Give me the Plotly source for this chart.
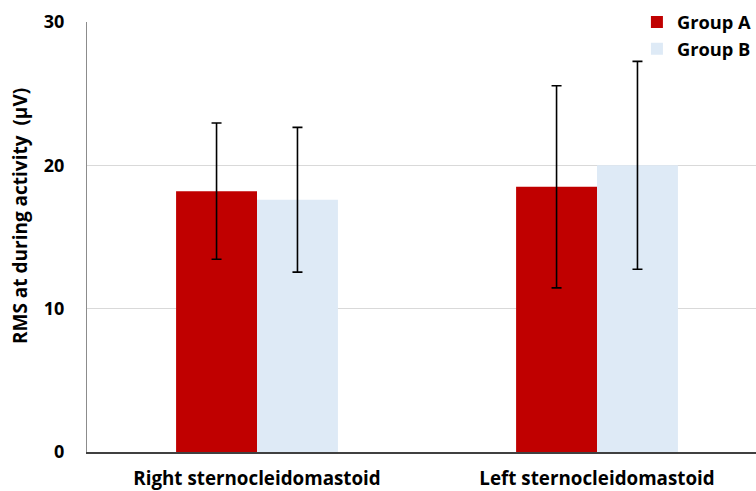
import plotly.graph_objects as go

categories = ["Right sternocleidomastoid", "Left sternocleidomastoid"]
group_a = [18.2, 18.5]
group_a_err = [4.75, 7.05]
group_b = [17.6, 20.0]
group_b_err = [5.05, 7.25]
y_ticks = [0, 10, 20, 30]
y_title = "RMS at during activity  (μV)"

FONT = "Open Sans"

fig = go.Figure()
fig.add_trace(go.Bar(
    name="Group A", x=categories, y=group_a,
    marker=dict(color="#C00000", line=dict(width=0)),
    error_y=dict(type="data", array=group_a_err, visible=True,
                 color="black", thickness=1.6, width=5),
))
fig.add_trace(go.Bar(
    name="Group B", x=categories, y=group_b,
    marker=dict(color="#DEEAF6", line=dict(width=0)),
    error_y=dict(type="data", array=group_b_err, visible=True,
                 color="black", thickness=1.6, width=5),
))

fig.update_layout(
    width=756, height=491,
    margin=dict(l=87, r=0, t=22, b=39, autoexpand=False),
    paper_bgcolor="white", plot_bgcolor="white",
    barmode="group", bargap=0.524, bargroupgap=0,
    font=dict(family=FONT, color="black"),
    showlegend=True,
    legend=dict(x=0.822, y=1.043, xanchor="left", yanchor="top",
                font=dict(family=FONT, size=18.3, color="black", weight="bold"),
                bgcolor="rgba(0,0,0,0)", itemwidth=30, tracegroupgap=0),
    xaxis=dict(
        type="category", range=[-0.5, 1.4676],
        showline=True, linecolor="#404040", linewidth=2,
        ticks="", showgrid=False, ticklabelstandoff=8,
        tickfont=dict(family=FONT, size=18.8, color="black", weight="bold"),
    ),
    yaxis=dict(
        range=[0, 30], tickvals=y_ticks,
        showline=True, linecolor="#8c8c8c", linewidth=1,
        showgrid=True, gridcolor="#d9d9d9", gridwidth=1,
        ticks="", ticklen=0, zeroline=False, ticklabelstandoff=18,
        tickfont=dict(family=FONT, size=18, color="black", weight="bold"),
    ),
    annotations=[dict(
        text=y_title, textangle=-90, showarrow=False,
        xref="paper", yref="paper", x=-0.1, y=0.549,
        xanchor="center", yanchor="middle",
        font=dict(family=FONT, size=19, color="black", weight="bold"),
    )],
)

fig.write_html("out.html", config={"displayModeBar": False},
               post_script="document.body.style.margin='0';document.body.style.overflow='hidden';")
